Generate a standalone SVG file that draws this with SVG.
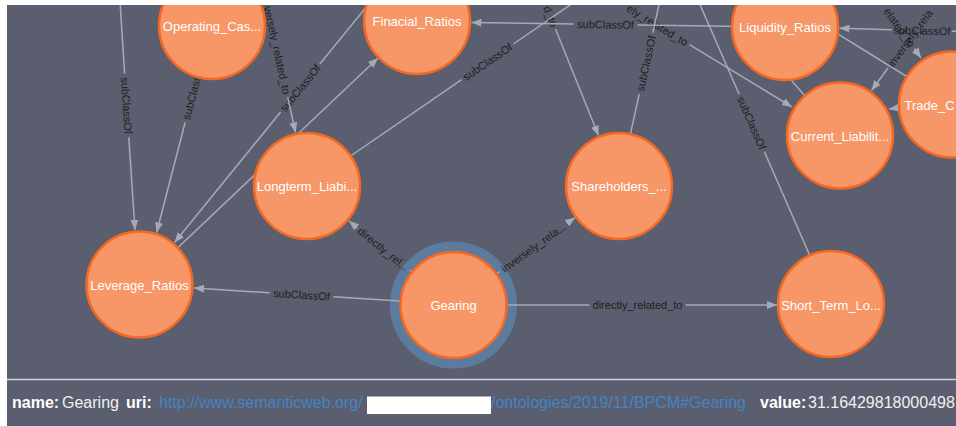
<svg xmlns="http://www.w3.org/2000/svg" width="956" height="426" viewBox="0 0 956 426">
<style>
.edge{stroke:#a5abb6;stroke-width:1.5;fill:none}
.arr{marker-end:url(#arrow)}
.elabel{font-family:"Liberation Sans",Arial,Helvetica,sans-serif;font-size:11px;fill:#1f1f1f;text-anchor:middle}
.end{text-anchor:end}
.start{text-anchor:start}
.node circle{fill:#f79767;stroke:#f36924;stroke-width:2.5}
.node text{font-family:"Liberation Sans",Arial,Helvetica,sans-serif;font-size:13px;fill:#ffffff;text-anchor:middle}
.bar{font-family:"Liberation Sans",Arial,Helvetica,sans-serif;font-size:16px}
.key{font-weight:bold;fill:#ffffff}
.val{fill:#f0f0f0}
.uri{fill:#4484c4}
</style>
<defs>
<marker id="arrow" viewBox="0 0 10 8" refX="10" refY="4" markerWidth="10" markerHeight="8" markerUnits="userSpaceOnUse" orient="auto">
<path d="M0,0 L10,4 L0,8 Z" fill="#a5abb6"/>
</marker>
<clipPath id="graphClip"><rect x="7" y="5" width="949" height="374"/></clipPath>
</defs>
<rect x="0" y="0" width="956" height="426" fill="#ffffff"/>
<rect x="7" y="5" width="949" height="421" fill="#5a5e6e"/>
<g clip-path="url(#graphClip)">
<g id="selection-ring">
<circle cx="453.5" cy="305" r="58.5" fill="none" stroke="#5d7b9e" stroke-width="10"/>
</g>
<g id="connectors">
<!-- Gearing -> Leverage_Ratios -->
<line class="edge" x1="400" y1="301" x2="333.4" y2="296.8"/>
<line class="edge arr" x1="269.6" y1="292.8" x2="194" y2="288"/>
<text class="elabel" transform="translate(301.5,294.8) rotate(3.6)" y="4">subClassOf</text>
<!-- Gearing -> Longterm -->
<line class="edge" x1="411.4" y1="271.4" x2="409.5" y2="270"/>
<line class="edge arr" x1="357.5" y1="228" x2="349" y2="221"/>
<text class="elabel" transform="translate(383.5,249) rotate(39)" y="4">directly_rel...</text>
<!-- Gearing -> Shareholders -->
<line class="edge" x1="496.5" y1="273.8" x2="499.8" y2="271.5"/>
<line class="edge arr" x1="567.2" y1="223.1" x2="575.1" y2="217.5"/>
<text class="elabel" transform="translate(533.5,247.3) rotate(-35.6)" y="4">inversely_rela...</text>
<!-- Gearing -> Short_Term -->
<line class="edge" x1="507" y1="305" x2="589.5" y2="305"/>
<line class="edge arr" x1="685.5" y1="305" x2="777" y2="305"/>
<text class="elabel" transform="translate(637.5,305)" y="4">directly_related_to</text>
<!-- top -> Leverage -->
<line class="edge" x1="119.3" y1="-10" x2="124.6" y2="73.6"/>
<line class="edge arr" x1="128.8" y1="137.4" x2="135" y2="230"/>
<text class="elabel" transform="translate(126.7,105.5) rotate(86.2)" y="4">subClassOf</text>
<!-- Operating -> Leverage -->
<line class="edge" x1="210" y1="26" x2="200.9" y2="61.5"/>
<line class="edge arr" x1="185.1" y1="122.5" x2="156.6" y2="232.5"/>
<text class="elabel" transform="translate(193,92) rotate(-75.5)" y="4">subClassOf</text>
<!-- Finacial -> Leverage -->
<line class="edge" x1="372" y1="0" x2="319.8" y2="64"/>
<line class="edge arr" x1="280.6" y1="112" x2="174.5" y2="242.5"/>
<text class="elabel" transform="translate(300.2,88) rotate(-50.7)" y="4">subClassOf</text>
<!-- Leverage -> Finacial -->
<line class="edge arr" x1="139.5" y1="284" x2="378" y2="58"/>
<!-- top -> Longterm -->
<line class="edge" x1="262" y1="-20" x2="264.5" y2="-9"/>
<line class="edge arr" x1="287.7" y1="97" x2="295.5" y2="132.5"/>
<text class="elabel end" transform="translate(287,94) rotate(77.5)" y="4">versely_related_to</text>
<!-- Longterm -> top right -->
<line class="edge" x1="307" y1="186" x2="461.6" y2="79.6"/>
<line class="edge" x1="513.4" y1="44" x2="600" y2="-15.6"/>
<text class="elabel" transform="translate(487.5,61.8) rotate(-34.5)" y="4">subClassOf</text>
<!-- top -> Shareholders -->
<line class="edge arr" x1="555.5" y1="29" x2="598.5" y2="135.5"/>
<text class="elabel end" transform="translate(554.6,26.5) rotate(68.1)" y="4">d_to</text>
<!-- top -> Current_Liabilit -->
<line class="edge arr" x1="689.5" y1="44.6" x2="792" y2="107"/>
<text class="elabel end" transform="translate(687,43.1) rotate(31.3)" y="4">ely_related_to</text>
<!-- Liquidity -> Finacial -->
<line class="edge" x1="785" y1="27" x2="637.5" y2="24.9"/>
<line class="edge arr" x1="573.5" y1="24" x2="471.5" y2="22.5"/>
<text class="elabel" transform="translate(605.5,24.4) rotate(0.8)" y="4">subClassOf</text>
<!-- Shareholders -> top -->
<line class="edge" x1="619" y1="186" x2="639.2" y2="94.2"/>
<line class="edge" x1="652.8" y1="32.8" x2="663" y2="-13.5"/>
<text class="elabel" transform="translate(646,63.5) rotate(-77.6)" y="4">subClassOf</text>
<!-- Short_Term -> top -->
<line class="edge" x1="831" y1="304" x2="764.4" y2="151.8"/>
<line class="edge" x1="739.2" y1="94.2" x2="694" y2="-9"/>
<text class="elabel" transform="translate(751.8,123) rotate(66.4)" y="4">subClassOf</text>
<!-- Liquidity / Current -->
<line class="edge" x1="745" y1="27" x2="839.5" y2="135.5"/>
<!-- right -> Liquidity -->
<line class="edge" x1="980" y1="31.9" x2="952" y2="31.2"/>
<line class="edge arr" x1="892" y1="29.8" x2="839.5" y2="28.3"/>
<text class="elabel" transform="translate(922,30.5) rotate(1.4)" y="4">subClassOf</text>
<!-- Trade / Liquidity -->
<line class="edge" x1="952" y1="104.5" x2="783" y2="0"/>
<!-- top -> Trade -->
<line class="edge arr" x1="914.3" y1="48.5" x2="921" y2="58"/>
<text class="elabel end" transform="translate(912.6,46) rotate(55)" y="4">elated_to</text>
<!-- top -> Current -->
<line class="edge arr" x1="888" y1="68" x2="871.5" y2="90.5"/>
<text class="elabel start" transform="translate(889.9,65.5) rotate(-53.7)" y="4">inversely_rela</text>
<!-- Trade -> Current -->
<line class="edge arr" x1="952" y1="100" x2="889" y2="109"/>
</g>
<g id="node-operating" class="node"><circle cx="212" cy="26" r="53"/><text x="212" y="31">Operating_Cas...</text></g>
<g id="node-finacial" class="node"><circle cx="417" cy="21" r="53"/><text x="417" y="26">Finacial_Ratios</text></g>
<g id="node-liquidity" class="node"><circle cx="785" cy="27" r="53"/><text x="785" y="32">Liquidity_Ratios</text></g>
<g id="node-current" class="node"><circle cx="840" cy="135.5" r="53"/><text x="840" y="141">Current_Liabilit...</text></g>
<g id="node-trade" class="node"><circle cx="952" cy="104.5" r="53"/><text x="904.5" y="110" style="text-anchor:start">Trade_C</text></g>
<g id="node-longterm" class="node"><circle cx="307" cy="186" r="53"/><text x="307" y="191">Longterm_Liabi...</text></g>
<g id="node-shareholders" class="node"><circle cx="619" cy="186" r="53"/><text x="619" y="191">Shareholders_...</text></g>
<g id="node-leverage" class="node"><circle cx="139.5" cy="284.5" r="53"/><text x="139.5" y="290">Leverage_Ratios</text></g>
<g id="node-gearing" class="node"><circle cx="453.5" cy="305" r="53"/><text x="453.5" y="310">Gearing</text></g>
<g id="node-shortterm" class="node"><circle cx="831" cy="304" r="53"/><text x="831" y="310">Short_Term_Lo...</text></g>
</g>
<line x1="7" y1="379.5" x2="956" y2="379.5" stroke="#d0d2d6" stroke-width="1.5"/>
<g id="info-bar" class="bar">
<text class="key" x="12" y="408">name:</text>
<text class="val" x="62" y="408">Gearing</text>
<text class="key" x="126" y="408">uri:</text>
<text class="uri" x="159" y="408">http://www.semanticweb.org/</text>
<rect x="367" y="396.5" width="124" height="17.5" fill="#ffffff"/>
<text class="uri" x="491" y="408">/ontologies/2019/11/BPCM#Gearing</text>
<text class="key" x="760" y="408">value:</text>
<text class="val" x="808" y="408">31.16429818000498</text>
</g>
</svg>
